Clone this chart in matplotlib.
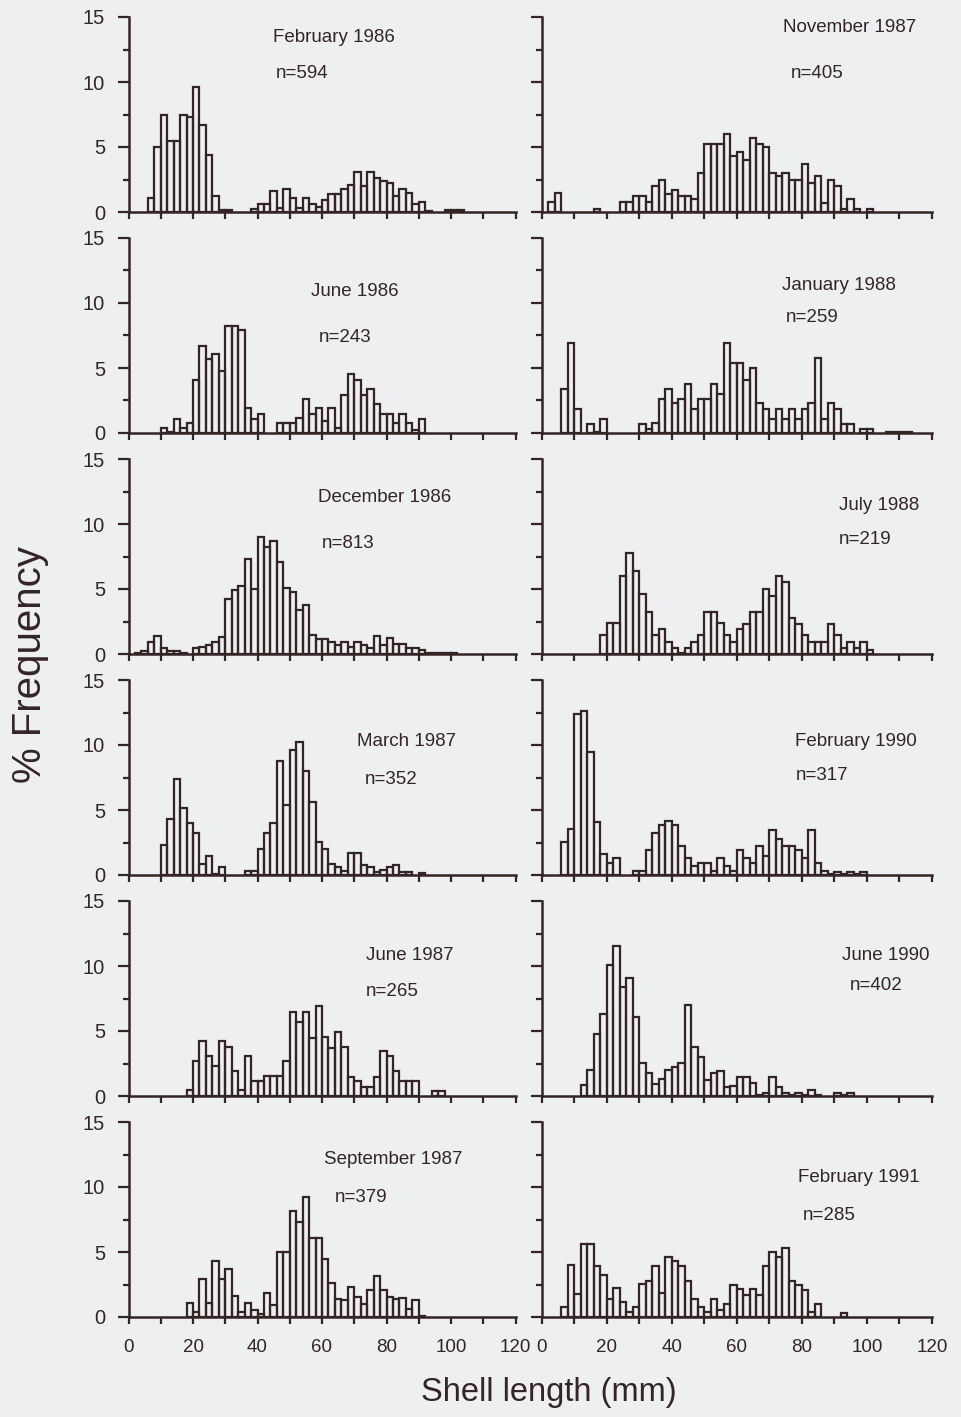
import matplotlib
matplotlib.use("Agg")
import matplotlib.pyplot as plt
from matplotlib.ticker import MultipleLocator

plt.rcParams['font.family'] = ['Liberation Sans', 'DejaVu Sans']

# ---------------------------------------------------------------------------
# Length-frequency data: % frequency in 2 mm shell-length classes.
# Each series lists consecutive classes beginning at the given start length.
# ---------------------------------------------------------------------------
bin_width = 2

feb_1986_start = 6
feb_1986 = [1.1, 5.0, 7.5, 5.5, 5.5, 7.5, 7.3, 9.6, 6.7, 4.4, 1.25, 0.15, 0.15, 0, 0, 0,
            0.2, 0.6, 0.6, 1.6, 0.3, 1.8, 1.1, 0.3, 1.1, 0.6, 0.4, 0.9, 1.4, 1.4, 1.8,
            2.1, 3.1, 2.0, 3.1, 2.6, 2.4, 2.2, 1.2, 1.8, 1.5, 0.6, 0.8, 0.1, 0, 0,
            0.15, 0.15, 0.15]

jun_1986_start = 10
jun_1986 = [0.35, 0.1, 1.1, 0.4, 0.75, 4.1, 6.7, 5.7, 6.1, 4.8, 8.2, 8.2, 7.9, 1.9, 1.1,
            1.5, 0, 0, 0.75, 0.75, 0.75, 1.15, 2.6, 1.5, 1.9, 0.95, 1.9, 0.4, 2.9, 4.5,
            4.1, 2.9, 3.4, 2.2, 1.5, 1.5, 0.75, 1.5, 0.75, 0.2, 1.1]

dec_1986_start = 2
dec_1986 = [0.05, 0.25, 0.95, 1.4, 0.45, 0.25, 0.2, 0.05, 0, 0.45, 0.55, 0.7, 0.95, 1.3,
            4.2, 4.9, 5.25, 7.3, 5.0, 9.0, 8.2, 8.7, 7.1, 5.1, 4.8, 3.4, 3.8, 1.5, 1.15,
            1.15, 0.95, 0.7, 0.95, 0.55, 0.95, 0.7, 0.45, 1.35, 0.7, 1.25, 0.8, 0.75,
            0.45, 0.45, 0.3, 0.1, 0.1, 0.1, 0.1, 0.1]

mar_1987_start = 10
mar_1987 = [2.3, 4.3, 7.4, 5.15, 4.0, 3.2, 0.85, 1.45, 0.1, 0.6, 0, 0, 0, 0.3, 0.3, 2.0,
            3.2, 4.0, 8.8, 5.4, 9.65, 10.25, 8.0, 5.65, 2.55, 2.0, 0.85, 0.6, 0.3, 1.7,
            1.7, 0.8, 0.6, 0.2, 0.35, 0.6, 0.8, 0.2, 0.2, 0, 0.15]

jun_1987_start = 18
jun_1987 = [0.45, 2.7, 4.2, 3.1, 2.3, 4.2, 3.8, 1.95, 0.45, 3.1, 1.15, 1.15, 1.55, 1.55,
            1.55, 2.7, 6.45, 5.7, 6.45, 4.5, 6.9, 4.55, 3.7, 4.95, 3.8, 1.5, 1.15, 0.7,
            0.7, 1.5, 3.45, 3.05, 1.9, 1.15, 1.15, 1.15, 0, 0, 0.4, 0.4]

sep_1987_start = 18
sep_1987 = [1.1, 0.4, 2.95, 1.1, 4.3, 2.95, 3.7, 1.6, 0.4, 1.1, 0.55, 0.2, 1.85, 0.95,
            5.0, 5.0, 8.15, 7.3, 9.25, 6.05, 6.05, 4.5, 2.6, 1.35, 1.3, 2.3, 1.55, 1.0,
            2.05, 3.15, 2.05, 1.55, 1.35, 1.45, 0.65, 1.3, 0.1]

nov_1987_start = 2
nov_1987 = [0.75, 1.45, 0, 0, 0, 0, 0, 0.2, 0, 0, 0, 0.75, 0.75, 1.2, 1.2, 0.75, 2.0,
            2.5, 1.4, 1.7, 1.2, 1.2, 1.0, 3.0, 5.2, 5.2, 5.2, 6.0, 4.3, 4.6, 4.0, 5.7,
            5.2, 5.0, 3.0, 2.8, 3.0, 2.5, 2.5, 3.7, 2.2, 2.8, 0.7, 2.5, 2.0, 0.2, 1.0,
            0.25, 0, 0.25]

jan_1988_start = 6
jan_1988 = [3.4, 6.95, 1.85, 0, 0.7, 0.1, 1.1, 0, 0, 0, 0, 0, 0.7, 0.3, 0.75, 2.6, 3.4,
            2.3, 2.6, 3.8, 1.85, 2.6, 2.6, 3.8, 3.0, 6.95, 5.4, 5.4, 4.1, 5.0, 2.3, 1.85,
            1.1, 1.85, 1.1, 1.85, 1.1, 1.85, 2.3, 5.75, 1.1, 2.3, 1.85, 0.7, 0.7, 0,
            0.3, 0.3, 0, 0, 0.05, 0.05, 0.05, 0.05]

jul_1988_start = 18
jul_1988 = [1.45, 2.35, 2.35, 6.0, 7.8, 6.4, 4.6, 3.2, 1.45, 1.9, 0.95, 0.5, 0.1, 0.5,
            0.95, 1.45, 3.2, 3.2, 2.35, 1.45, 0.95, 1.9, 2.3, 3.2, 3.2, 5.0, 4.5, 6.0,
            5.55, 2.8, 2.3, 1.45, 0.95, 0.95, 0.95, 2.3, 1.45, 0.5, 0.95, 0.5, 0.95, 0.3]

feb_1990_start = 6
feb_1990 = [2.55, 3.55, 12.4, 12.65, 9.5, 4.1, 1.6, 0.95, 1.3, 0, 0, 0.3, 0.3, 1.95,
            3.2, 3.85, 4.15, 3.85, 2.2, 1.3, 0.7, 0.95, 0.95, 0.3, 1.3, 0.7, 0.3, 1.9,
            1.3, 0.95, 2.2, 1.5, 3.5, 2.8, 2.2, 2.2, 1.9, 1.3, 3.5, 0.9, 0.3, 0.1, 0.25,
            0.1, 0.25, 0.1, 0.25]

jun_1990_start = 12
jun_1990 = [0.85, 2.0, 4.8, 6.3, 10.1, 11.55, 8.4, 9.05, 6.05, 2.55, 1.75, 0.95, 1.3,
            2.0, 2.25, 2.55, 7.0, 3.75, 3.0, 1.25, 1.75, 1.95, 0.7, 0.8, 1.5, 1.5, 1.0,
            0.1, 0.25, 1.5, 0.7, 0.25, 0.1, 0.25, 0.1, 0.5, 0.1, 0, 0, 0.25, 0.1, 0.25]

feb_1991_start = 6
feb_1991 = [0.75, 4.0, 1.8, 5.65, 5.65, 3.95, 3.25, 1.35, 2.2, 1.15, 0.35, 0.75, 2.55,
            2.8, 3.95, 1.85, 4.6, 4.3, 3.95, 2.8, 1.4, 0.75, 0.35, 1.4, 0.55, 1.0, 2.5,
            2.15, 1.7, 2.15, 1.7, 3.95, 5.0, 4.6, 5.3, 2.8, 2.5, 2.1, 0.35, 1.0, 0, 0, 0,
            0.3]

sample_labels = ["February 1986", "June 1986", "December 1986", "March 1987",
                 "June 1987", "September 1987", "November 1987", "January 1988",
                 "July 1988", "February 1990", "June 1990", "February 1991"]
sample_sizes = [594, 243, 813, 352, 265, 379, 405, 259, 219, 317, 402, 285]

series = [(feb_1986_start, feb_1986), (jun_1986_start, jun_1986),
          (dec_1986_start, dec_1986), (mar_1987_start, mar_1987),
          (jun_1987_start, jun_1987), (sep_1987_start, sep_1987),
          (nov_1987_start, nov_1987), (jan_1988_start, jan_1988),
          (jul_1988_start, jul_1988), (feb_1990_start, feb_1990),
          (jun_1990_start, jun_1990), (feb_1991_start, feb_1991)]

x_ticks_major = [0, 20, 40, 60, 80, 100, 120]
y_ticks_major = [0, 5, 10, 15]

# ---------------------------------------------------------------------------
# Layout (pixels) and style
# ---------------------------------------------------------------------------
W, H = 961, 1417
BG = '#edeff1'
INK = '#352424'

col_x = [(128.5, 515.5), (541.5, 932.0)]
row_base = [212 + i * 221 for i in range(6)]
panel_h = 195

# title / n label anchor points (left edge, vertical centre) in pixels
title_pos = [(273, 37), (311, 292), (318, 498), (357, 741), (366, 955), (324, 1159),
             (783, 27), (782, 285), (839, 506), (795, 741), (842, 955), (798, 1177)]
n_pos = [(276, 74), (319, 337), (322, 544), (365, 779), (366, 992), (335, 1197),
         (791, 74), (786, 318), (839, 540), (796, 775), (850, 986), (803, 1215)]

fig = plt.figure(figsize=(W / 100, H / 100), dpi=100, facecolor=BG)

for k, ((start, heights), label, n) in enumerate(zip(series, sample_labels, sample_sizes)):
    col, row = divmod(k, 6)
    x0, x1 = col_x[col]
    base = row_base[row]
    ax = fig.add_axes([x0 / W, 1 - base / H, (x1 - x0) / W, panel_h / H])
    ax.set_facecolor('none')

    lefts = [start + i * bin_width for i in range(len(heights))]
    keep = [(l, h) for l, h in zip(lefts, heights) if h > 0]
    ax.bar([l for l, _ in keep], [h for _, h in keep], width=bin_width, align='edge',
           facecolor='none', edgecolor=INK, linewidth=1.6)

    ax.set_xlim(0, 120)
    ax.set_ylim(0, 15)
    for side in ('top', 'right'):
        ax.spines[side].set_visible(False)
    for side in ('left', 'bottom'):
        ax.spines[side].set_color(INK)
        ax.spines[side].set_linewidth(1.8)

    ax.set_xticks(x_ticks_major)
    ax.xaxis.set_minor_locator(MultipleLocator(10))
    ax.set_yticks(y_ticks_major)
    ax.yaxis.set_minor_locator(MultipleLocator(2.5))
    ax.tick_params(axis='both', which='both', direction='out', color=INK, width=1.6)
    ax.tick_params(axis='y', which='major', length=8, pad=9, labelsize=14.5,
                   labelcolor=INK, labelleft=(col == 0))
    ax.tick_params(axis='y', which='minor', length=4)
    ax.tick_params(axis='x', which='both', length=5)
    ax.tick_params(axis='x', which='major', pad=11, labelsize=13.5, labelcolor=INK,
                   labelbottom=(row == 5))

    tx, ty = title_pos[k]
    fig.text(tx / W, 1 - ty / H, label, ha='left', va='center', fontsize=13.5, color=INK)
    nx, ny = n_pos[k]
    fig.text(nx / W, 1 - ny / H, f"n={n}", ha='left', va='center', fontsize=13.5,
             color=INK)

fig.text(30 / W, 1 - 665 / H, "% Frequency", rotation=90, ha='center', va='center',
         fontsize=29, color=INK)
fig.text(549 / W, 1 - 1393 / H, "Shell length (mm)", ha='center', va='center',
         fontsize=23.5, color=INK)

fig.savefig("out.png", dpi=100, facecolor=BG)
